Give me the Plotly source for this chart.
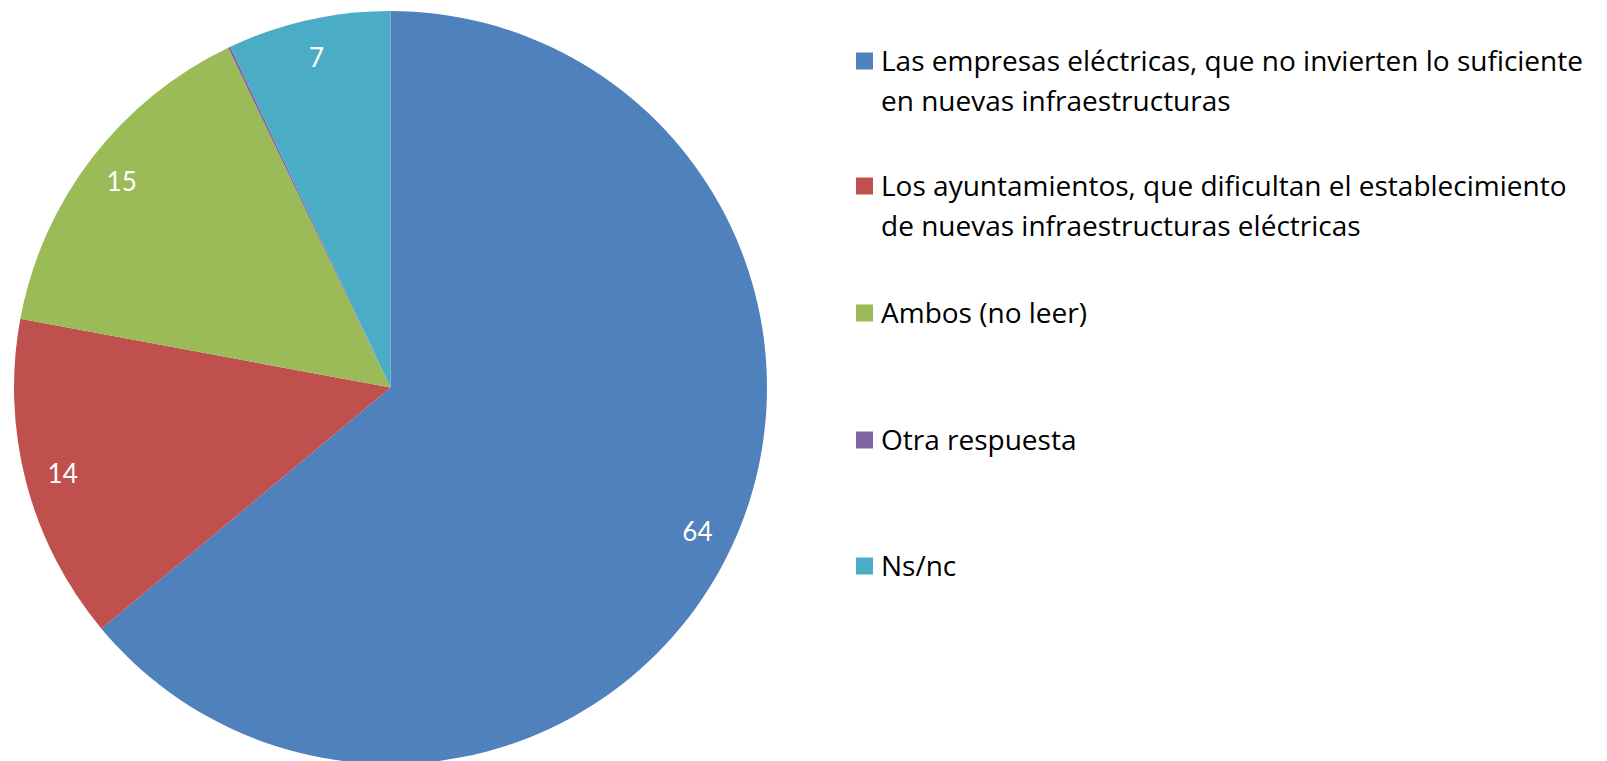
import plotly.graph_objects as go

# --- data ---
labels = [
    "Las empresas eléctricas, que no invierten lo suficiente<br>en nuevas infraestructuras",
    "Los ayuntamientos, que dificultan el establecimiento<br>de nuevas infraestructuras eléctricas",
    "Ambos (no leer)",
    "Otra respuesta",
    "Ns/nc",
]
values = [64, 14, 15, 0.1, 7]
value_text = ["64", "14", "15", "", "7"]
colors = ["#4F81BD", "#C0504D", "#9BBB59", "#8064A2", "#4BACC6"]

W, H = 1607, 761
OFF = 8  # page body margin
LEGEND_FONT = "Open Sans"
NUM_FONT = "Lato"

# pie: left edge ~14px, top ~11px, diameter ~753px in the page
px0, py0, d = 14 - OFF, 11 - OFF, 753
pie_domain = dict(x=[px0 / W, (px0 + d) / W], y=[max(0, 1 - (py0 + d) / H), 1 - py0 / H])

fig = go.Figure()

# the actual pie
fig.add_trace(go.Pie(
    labels=labels,
    values=values,
    marker=dict(colors=colors, line=dict(width=0)),
    sort=False,
    direction="clockwise",
    rotation=0,
    textinfo="none",
    hoverinfo="label+value",
    showlegend=False,
    domain=pie_domain,
))

# transparent ring on top, only used to put the value labels near the rim
fig.add_trace(go.Pie(
    labels=labels,
    values=values,
    hole=0.8,
    marker=dict(colors=["rgba(0,0,0,0)"] * len(values), line=dict(width=0)),
    sort=False,
    direction="clockwise",
    rotation=0,
    text=value_text,
    textinfo="text",
    textposition="inside",
    insidetextorientation="horizontal",
    textfont=dict(family=NUM_FONT, size=26, color="white"),
    hoverinfo="skip",
    showlegend=False,
    domain=pie_domain,
))

# --- legend, drawn by hand to get the even spacing ---
entry_y = [61, 186, 313, 440, 566]
line_gap = 40
sq = 17
sq_x0 = 856 - OFF
text_x = 879 - OFF

annotations = []
shapes = []
for lab, col, yc in zip(labels, colors, entry_y):
    yc = yc - OFF
    shapes.append(dict(
        type="rect", xref="paper", yref="paper",
        x0=sq_x0 / W, x1=(sq_x0 + sq) / W,
        y0=1 - (yc + sq / 2) / H, y1=1 - (yc - sq / 2) / H,
        fillcolor=col, line=dict(width=0),
    ))
    for i, line in enumerate(lab.split("<br>")):
        annotations.append(dict(
            xref="paper", yref="paper",
            x=text_x / W, y=1 - (yc + i * line_gap - 1) / H,
            xanchor="left", yanchor="middle",
            text=line, showarrow=False,
            font=dict(family=LEGEND_FONT, size=28, color="black"),
        ))

fig.update_layout(
    width=W, height=H,
    margin=dict(l=0, r=0, t=0, b=0),
    paper_bgcolor="white",
    plot_bgcolor="white",
    showlegend=False,
    annotations=annotations,
    shapes=shapes,
)

fig.write_html("out.html")
